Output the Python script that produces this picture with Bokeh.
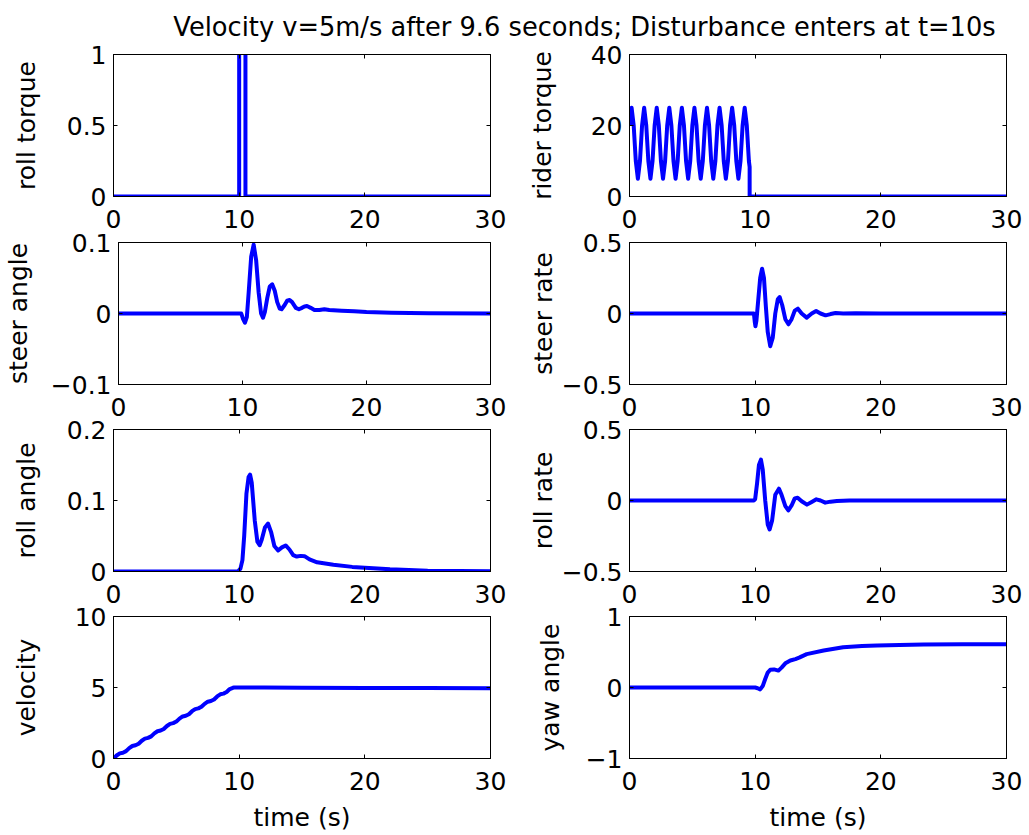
from bokeh.plotting import figure
from bokeh.layouts import column, row
from bokeh.models import Range1d, FixedTicker, LinearAxis, Label, CustomJSTickFormatter
from bokeh.embed import file_html
from bokeh.resources import INLINE

# ---------------- data ----------------
TITLE = "Velocity v=5m/s after 9.6 seconds; Disturbance enters at t=10s"
X_LABEL = "time (s)"
X_TICKS = [0, 10, 20, 30]
X_TICK_LABELS = ["0", "10", "20", "30"]

ROLL_TORQUE_T = [0, 10.0, 10.0, 10.5, 10.5, 30]
ROLL_TORQUE_V = [0, 0, 1.05, 1.05, 0, 0]

RIDER_TORQUE_T = [k / 6 for k in range(58)] + [9.56, 9.56, 30]
RIDER_TORQUE_V = [20, 25, 20, 10, 5, 10, 20, 25, 20, 10, 5, 10,
                  20, 25, 20, 10, 5, 10, 20, 25, 20, 10, 5, 10,
                  20, 25, 20, 10, 5, 10, 20, 25, 20, 10, 5, 10,
                  20, 25, 20, 10, 5, 10, 20, 25, 20, 10, 5, 10,
                  20, 25, 20, 10, 5, 10, 20, 25, 20, 10, 8.3, 0, 0]

STEER_ANGLE_T = [0, 9.9, 10.05, 10.2, 10.35, 10.5, 10.7, 10.9, 11.1, 11.3, 11.5, 11.65,
                 11.8, 12.0, 12.2, 12.4, 12.6, 12.8, 13.0, 13.15, 13.4, 13.6, 13.8, 14.0,
                 14.3, 14.55, 14.8, 15.0, 15.2, 15.5, 15.8, 16.2, 16.6, 17.0, 18.0, 19.0,
                 20.0, 22.0, 25.0, 30.0]
STEER_ANGLE_V = [0, 0, -0.008, -0.013, -0.005, 0.03, 0.08, 0.097, 0.075, 0.03, 0.0, -0.006,
                 0.002, 0.022, 0.038, 0.041, 0.032, 0.016, 0.007, 0.006, 0.012, 0.018, 0.019, 0.016,
                 0.008, 0.006, 0.008, 0.010, 0.0105, 0.008, 0.005, 0.005, 0.006, 0.005, 0.004, 0.003,
                 0.002, 0.001, 0.0003, 0.0]

STEER_RATE_T = [0, 9.9, 9.97, 10.02, 10.1, 10.25, 10.4, 10.55, 10.7, 10.85, 11.0, 11.2,
                11.4, 11.6, 11.8, 11.95, 12.15, 12.4, 12.65, 12.9, 13.15, 13.4, 13.7, 14.1,
                14.5, 14.85, 15.2, 15.6, 16.0, 16.4, 17.0, 18.0, 20.0, 30.0]
STEER_RATE_V = [0, 0, -0.06, -0.09, -0.05, 0.1, 0.25, 0.315, 0.25, 0.05, -0.13, -0.23,
                -0.17, 0.0, 0.1, 0.116, 0.06, -0.04, -0.076, -0.04, 0.02, 0.034, 0.0, -0.029,
                0.0, 0.018, 0.0, -0.013, -0.004, 0.004, 0.0, 0.002, 0.0, 0.0]

ROLL_ANGLE_T = [0, 9.9, 10.1, 10.26, 10.4, 10.58, 10.75, 10.87, 11.0, 11.24, 11.45, 11.63,
                11.8, 12.05, 12.3, 12.55, 12.8, 13.1, 13.4, 13.7, 14.0, 14.3, 14.58, 14.9,
                15.2, 15.6, 16.2, 17.5, 19.0, 20.0, 22.0, 25.0, 30.0]
ROLL_ANGLE_V = [0, 0, 0.004, 0.016, 0.05, 0.11, 0.133, 0.1365, 0.125, 0.072, 0.042, 0.037,
                0.045, 0.062, 0.0675, 0.055, 0.036, 0.0296, 0.034, 0.0367, 0.031, 0.023, 0.021, 0.022,
                0.0216, 0.017, 0.013, 0.0094, 0.0065, 0.0052, 0.003, 0.0012, 0.0002]

ROLL_RATE_T = [0, 9.9, 10.0, 10.15, 10.3, 10.46, 10.6, 10.8, 11.0, 11.15, 11.35, 11.6,
               11.89, 12.1, 12.4, 12.64, 12.9, 13.15, 13.38, 13.7, 14.12, 14.5, 14.87, 15.2,
               15.58, 16.0, 16.5, 17.5, 30.0]
ROLL_RATE_V = [0, 0, 0.01, 0.12, 0.25, 0.288, 0.22, 0.0, -0.17, -0.204, -0.14, 0.04,
               0.0835, 0.04, -0.04, -0.069, -0.035, 0.015, 0.02, -0.005, -0.029, -0.01, 0.008, 0.0,
               -0.015, -0.008, -0.004, 0.0, 0.0]

VELOCITY_T = [0, 0.25, 0.5, 0.75, 1.0, 1.25, 1.5, 1.75, 2.0, 2.25, 2.5, 2.75, 3.0, 3.25,
              3.5, 3.75, 4.0, 4.25, 4.5, 4.75, 5.0, 5.25, 5.5, 5.75, 6.0, 6.25, 6.5, 6.75,
              7.0, 7.25, 7.5, 7.75, 8.0, 8.25, 8.5, 8.75, 9.0, 9.25, 9.5, 9.6, 12, 15, 20, 25, 30]
VELOCITY_V = [0.00, 0.21, 0.36, 0.41, 0.52, 0.73, 0.88, 0.93, 1.04, 1.25, 1.40, 1.45, 1.56, 1.77,
              1.92, 1.97, 2.08, 2.29, 2.44, 2.49, 2.60, 2.81, 2.96, 3.01, 3.12, 3.33, 3.48, 3.53,
              3.64, 3.85, 4.00, 4.05, 4.16, 4.37, 4.52, 4.57, 4.68, 4.89, 4.98, 5.0, 5.0, 4.99,
              4.97, 4.96, 4.95]

YAW_ANGLE_T = [0, 10.0, 10.2, 10.4, 10.6, 10.8, 11.0, 11.2, 11.5, 11.85, 12.1, 12.4, 12.8,
               13.2, 13.5, 14.1, 15.45, 17.0, 18.5, 19.7, 21.5, 23.4, 26.5, 30.0]
YAW_ANGLE_V = [0, 0, -0.01, -0.026, 0.02, 0.12, 0.21, 0.25, 0.255, 0.238, 0.28, 0.34, 0.38,
               0.40, 0.42, 0.47, 0.52, 0.567, 0.583, 0.593, 0.60, 0.605, 0.608, 0.61]

Y_LABELS = ["roll torque", "rider torque", "steer angle", "steer rate",
            "roll angle", "roll rate", "velocity", "yaw angle"]
Y_RANGES = [(0, 1), (0, 40), (-0.1, 0.1), (-0.5, 0.5), (0, 0.2), (-0.5, 0.5), (0, 10), (-1, 1)]
Y_TICKS = [[0, 0.5, 1], [0, 20, 40], [-0.1, 0, 0.1], [-0.5, 0, 0.5],
           [0, 0.1, 0.2], [-0.5, 0, 0.5], [0, 5, 10], [-1, 0, 1]]
Y_TICK_LABELS = [["0", "0.5", "1"], ["0", "20", "40"], ["\u22120.1", "0", "0.1"],
                 ["\u22120.5", "0", "0.5"], ["0", "0.1", "0.2"], ["\u22120.5", "0", "0.5"],
                 ["0", "5", "10"], ["\u22121", "0", "1"]]
SERIES = [(ROLL_TORQUE_T, ROLL_TORQUE_V), (RIDER_TORQUE_T, RIDER_TORQUE_V),
          (STEER_ANGLE_T, STEER_ANGLE_V), (STEER_RATE_T, STEER_RATE_V),
          (ROLL_ANGLE_T, ROLL_ANGLE_V), (ROLL_RATE_T, ROLL_RATE_V),
          (VELOCITY_T, VELOCITY_V), (YAW_ANGLE_T, YAW_ANGLE_V)]

# ---------------- style / layout ----------------
FONT = "DejaVu Sans"
FS = "25px"
TITLE_FS = "25.7px"
BLUE = "#0000ff"
FRAME_W, FRAME_H = 377, 142
B_LEFT = [113, 111]
B_RIGHT = [28, 22]
B_TOP = [22, 22, 22, 22]
B_BOTTOM = [44, 44, 44, 76]
ROW_MARGIN_TOP = [-12, -20, -21, -21]
LABEL_STANDOFF = [23, 31, 15, 1, 23, 1, 31, 18]
TITLE_H = 44
TITLE_X, TITLE_Y = 584, 17.7

FMT_CODE = """
const i = tv.findIndex(v => Math.abs(v - tick) < 1e-9);
return i >= 0 ? tl[i] : String(tick);
"""


def fmt(ticks, labels):
    return CustomJSTickFormatter(args=dict(tv=list(ticks), tl=list(labels)), code=FMT_CODE)


def style_axis(ax, show_labels):
    ax.axis_line_color = "black"
    ax.major_tick_in = 4
    ax.major_tick_out = 0
    ax.minor_tick_line_color = None
    ax.major_tick_line_color = "black"
    ax.major_label_text_font = FONT
    ax.axis_label_text_font = FONT
    ax.axis_label_text_font_size = FS
    ax.axis_label_text_font_style = "normal"
    ax.axis_label_text_color = "black"
    if show_labels:
        ax.major_label_text_font_size = FS
        ax.major_label_text_color = "black"
    else:
        ax.major_label_text_font_size = "0px"
        ax.major_label_text_color = None
        ax.major_label_standoff = 0


def make_panel(i):
    r, c = divmod(i, 2)
    t, v = SERIES[i]
    w = B_LEFT[c] + FRAME_W + B_RIGHT[c]
    h = B_TOP[r] + FRAME_H + B_BOTTOM[r]
    p = figure(width=w, height=h, x_range=Range1d(0, 30), y_range=Range1d(*Y_RANGES[i]),
               toolbar_location=None, output_backend="svg",
               min_border_left=B_LEFT[c], min_border_right=B_RIGHT[c],
               min_border_top=B_TOP[r], min_border_bottom=B_BOTTOM[r])
    p.grid.visible = False
    p.outline_line_color = "black"
    p.outline_line_width = 1
    p.background_fill_color = "white"
    p.border_fill_color = None

    xa = p.xaxis[0]
    xa.ticker = FixedTicker(ticks=X_TICKS)
    xa.formatter = fmt(X_TICKS, X_TICK_LABELS)
    style_axis(xa, True)
    xa.major_label_standoff = 13
    if r == 3:
        xa.axis_label = X_LABEL
        xa.axis_label_standoff = 10

    ya = p.yaxis[0]
    ya.ticker = FixedTicker(ticks=Y_TICKS[i])
    ya.formatter = fmt(Y_TICKS[i], Y_TICK_LABELS[i])
    style_axis(ya, True)
    ya.major_label_standoff = 7
    ya.axis_label = Y_LABELS[i]
    ya.axis_label_standoff = LABEL_STANDOFF[i]

    top = LinearAxis(ticker=FixedTicker(ticks=X_TICKS))
    style_axis(top, False)
    p.add_layout(top, "above")
    right = LinearAxis(ticker=FixedTicker(ticks=Y_TICKS[i]))
    style_axis(right, False)
    p.add_layout(right, "right")

    p.line(t, v, line_width=4, line_color=BLUE, line_join="round")
    return p


panels = [make_panel(i) for i in range(8)]

title_fig = figure(width=B_LEFT[0] + FRAME_W + B_RIGHT[0] + B_LEFT[1] + FRAME_W + B_RIGHT[1],
                   height=TITLE_H, x_range=Range1d(0, 1), y_range=Range1d(0, TITLE_H),
                   toolbar_location=None, output_backend="svg", min_border=0,
                   x_axis_location=None, y_axis_location=None)
title_fig.grid.visible = False
title_fig.outline_line_color = None
title_fig.border_fill_color = None
title_fig.background_fill_color = None
title_fig.add_layout(Label(x=TITLE_X, y=TITLE_Y, x_units="screen", text=TITLE,
                           text_align="center", text_baseline="alphabetic", text_font=FONT,
                           text_font_size=TITLE_FS, text_color="black"))

rows = [row(panels[2 * k], panels[2 * k + 1], margin=(ROW_MARGIN_TOP[k], 0, 0, 0))
        for k in range(4)]
layout = column(title_fig, *rows)

open("out.html", "w").write(file_html(layout, INLINE))
